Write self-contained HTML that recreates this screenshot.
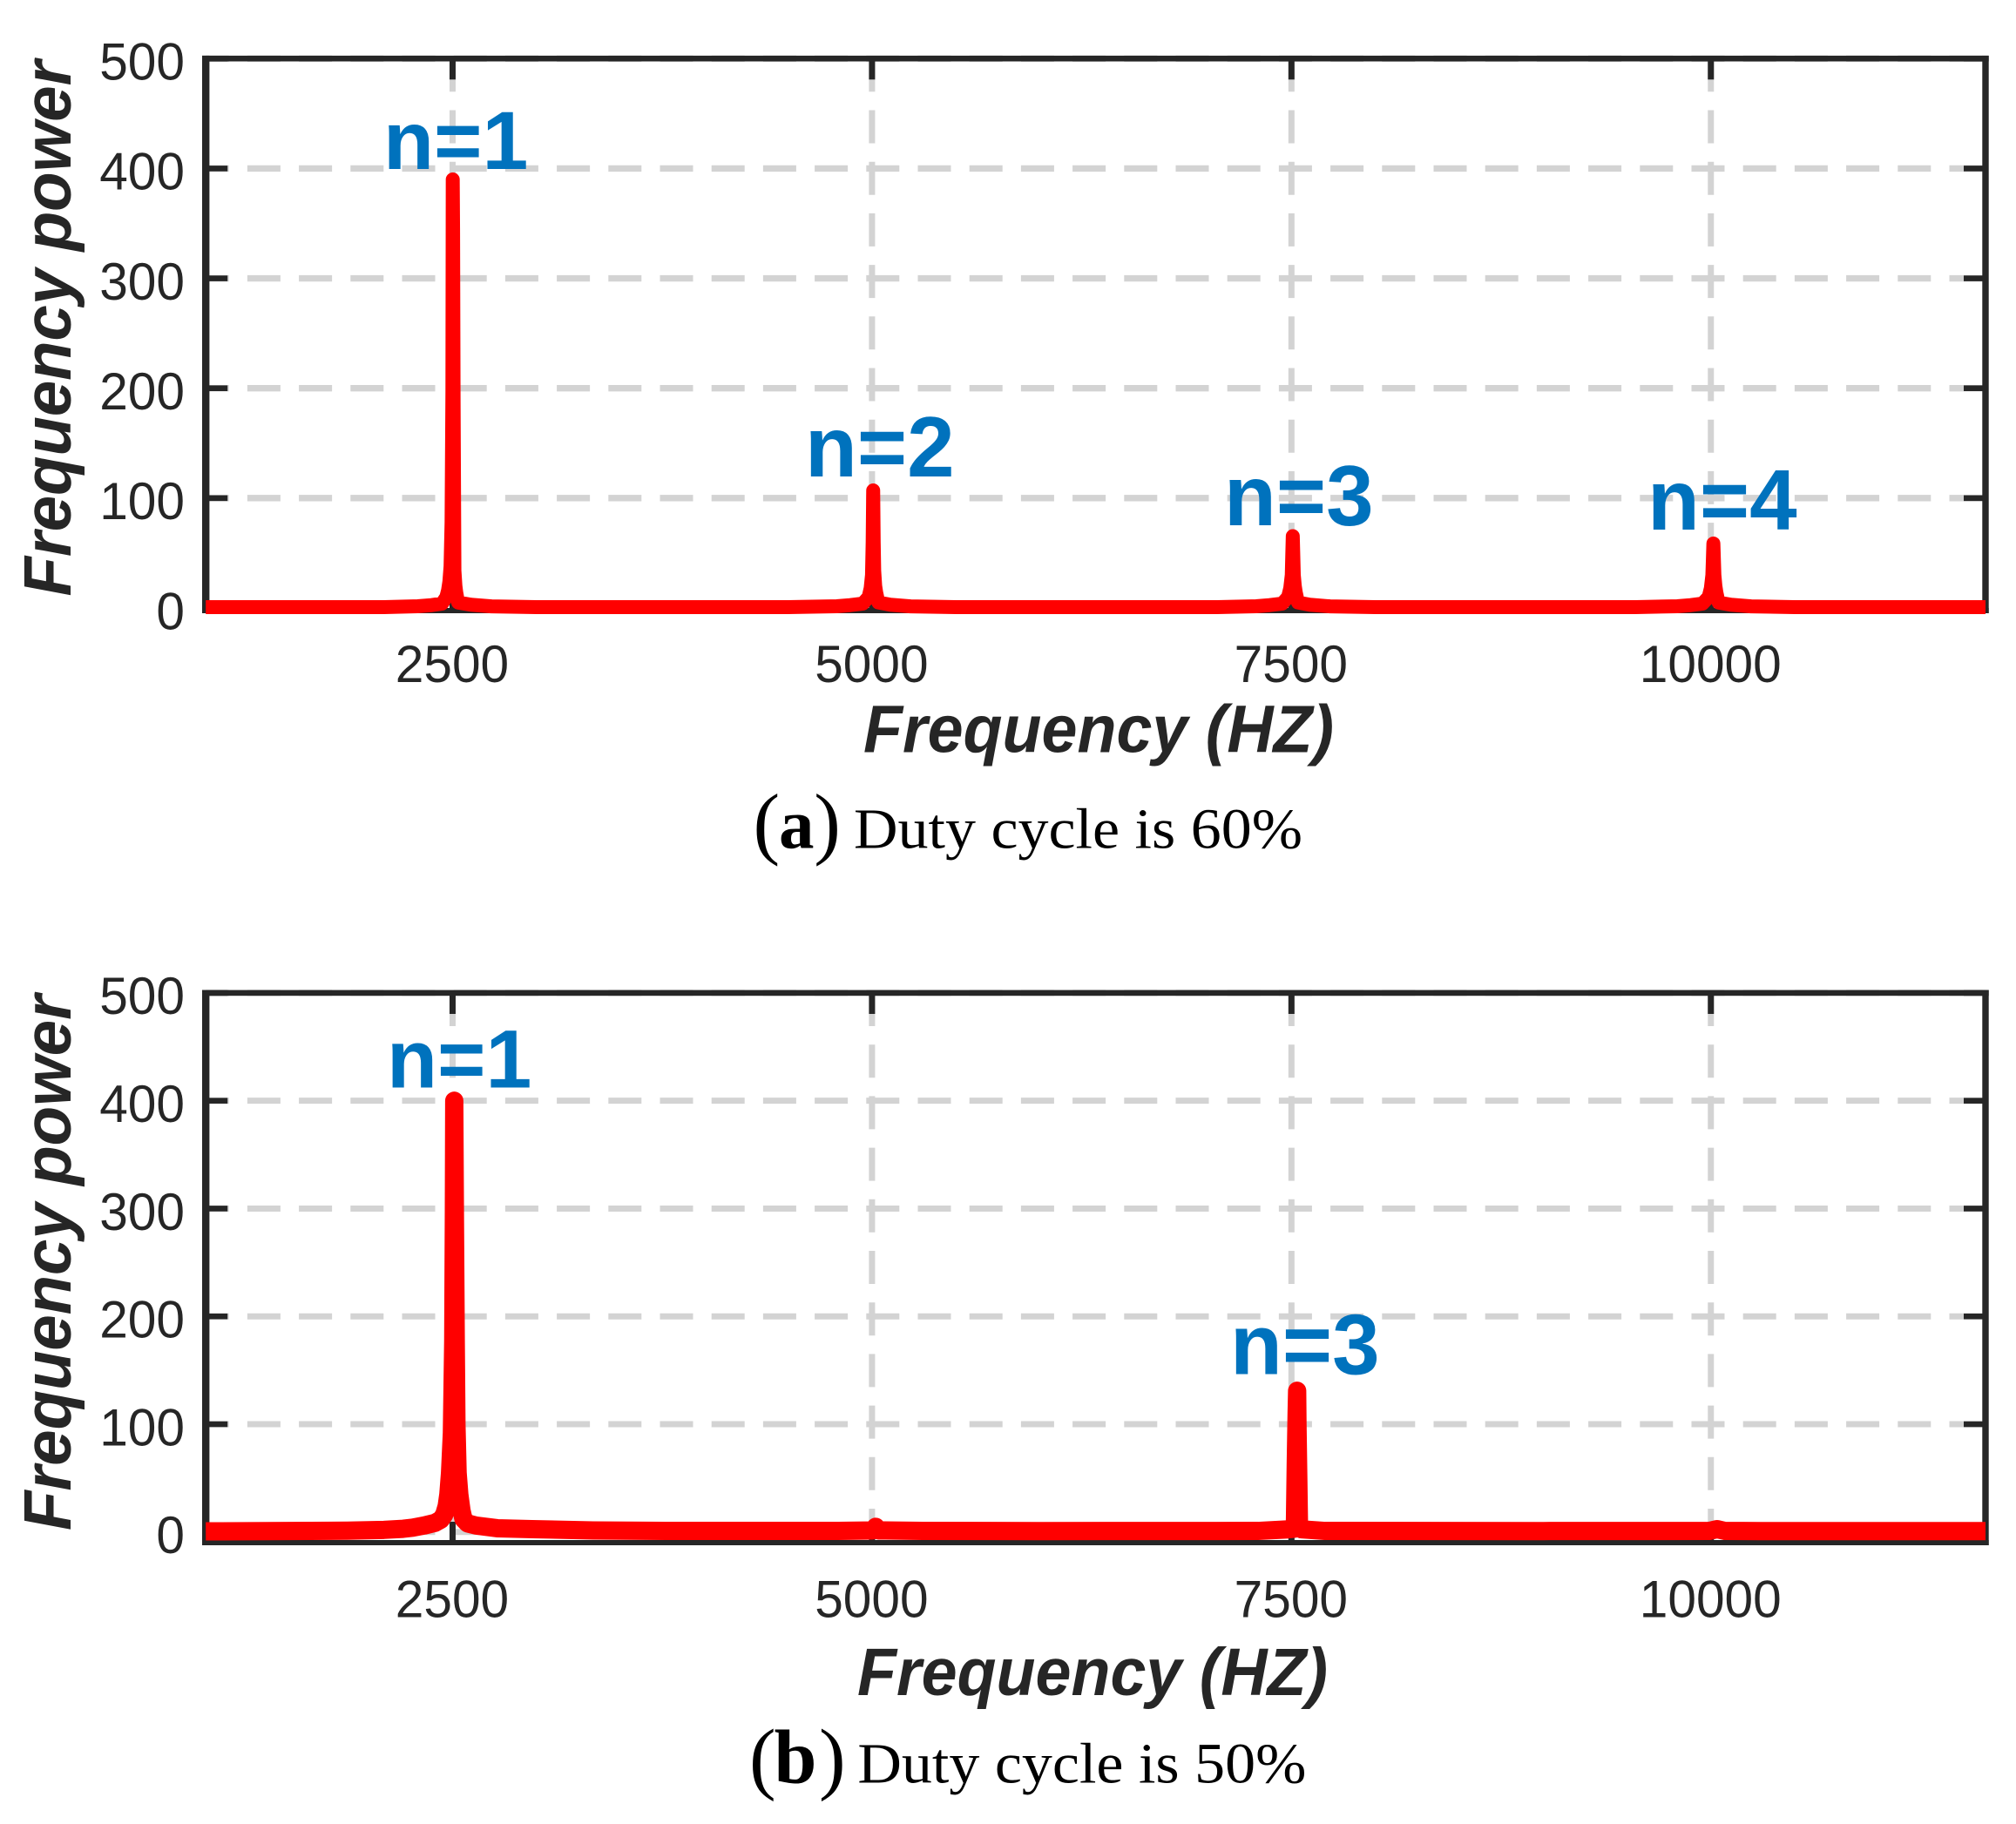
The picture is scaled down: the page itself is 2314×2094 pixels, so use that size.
<!DOCTYPE html>
<html lang="en">
<head>
<meta charset="utf-8">
<title>Frequency power spectra at 60% and 50% duty cycle</title>
<style>
  html, body { margin: 0; padding: 0; background: #fff; }
  svg { display: block; }
  text { font-family: "Liberation Sans", sans-serif; fill: #262626; }
  .serif { font-family: "Liberation Serif", serif; fill: #000; }
  .axis-title { font-weight: bold; font-style: italic; font-size: 77px; }
  .peak { font-weight: bold; fill: #0072BD; }
</style>
</head>
<body>
<svg id="figure" xmlns="http://www.w3.org/2000/svg" width="2314" height="2094" viewBox="0 0 2314 2094">
  <rect x="0" y="0" width="2314" height="2094" fill="#ffffff"/>
  <g id="panel-a"></g>
  <g id="panel-b"></g>
  <g>
    <text class="serif" x="864.5" y="975" font-size="92">(</text>
    <text class="serif" x="894" y="973.3" font-size="81" font-weight="bold">a</text>
    <text class="serif" x="934.3" y="975" font-size="92">)</text>
  </g>
  <text class="serif" x="980" y="973.3" font-size="66" textLength="515" lengthAdjust="spacingAndGlyphs">Duty cycle is 60%</text>
  <g>
    <text class="serif" x="860" y="2048.7" font-size="92">(</text>
    <text class="serif" x="888.5" y="2046.7" font-size="88" font-weight="bold">b</text>
    <text class="serif" x="940" y="2048.7" font-size="92">)</text>
  </g>
  <text class="serif" x="984.4" y="2046.7" font-size="66" textLength="515" lengthAdjust="spacingAndGlyphs">Duty cycle is 50%</text>
</svg>
<script>
const xTickValues = [2500, 5000, 7500, 10000];
const yTickValues = [0, 100, 200, 300, 400, 500];
const xLimits = [1029, 11637];

const freqA = [
  1029,2091,2292,2375,2437,2463,2473,2481,2488,2494,2499,2501,2503,2506,2511,2517,2522,2533,2610,2732,3000,
  4500,4790,4870,4945,4980,4992,5000,5004,5007,5010,5013,5019,5025,5038,5110,5230,5500,
  7050,7290,7370,7445,7480,7493,7502,7505,7508,7511,7514,7520,7526,7539,7610,7730,8000,
  9550,9800,9880,9950,9987,10000,10009,10012,10015,10018,10021,10027,10033,10046,10120,10240,10500,
  11637
];
const powerA = [
  0.8,0.8,1.6,2.6,4,10,16,24,38,78,197,390,345,191,34,20,14,5,3,1.5,0.8,
  0.8,1.6,2.6,4,10,18,30,60,107,60,34,20,14,5,3,1.5,0.8,
  0.8,1.6,2.6,4,10,18,30,48,65.4,48,30,20,14,5,3,1.5,0.8,
  0.8,1.6,2.6,4,10,18,30,44,58.7,44,30,20,14,5,3,1.5,0.8,
  0.8
];
const freqB = [
  1029,1873,2091,2205,2262,2330,2395,2430,2450,2465,2475,2485,2496,2504,2508,2510,2514,2519,2523,2530,2540,2553,2565,2590,2640,2766,2974,3337,3856,
  4800,5005,5022,5039,5300,6000,7300,7480,7516,7521,7526,7531,7534,7536,7541,7545,7560,7700,9000,9990,10037,10084,10300,11637
];
const powerB = [
  0.6,1.2,2,3,4,6,8.5,11.5,16,24,35,55,92,177,300,400,290,175,100,55,35,20,12,8,6,3.5,2.7,1.5,1,
  1,1.5,4.8,1.5,1,0.9,1,2.5,3,10,65,110,131,100,48,5,2.5,1,0.9,1,2.7,1,0.9,0.9
];
const peakLabelsA = ["n=1", "n=2", "n=3", "n=4"];
const peakLabelsB = ["n=1", "n=3"];

const SVG_NS = "http://www.w3.org/2000/svg";

function make(parent, tag, props, content) {
  const node = document.createElementNS(SVG_NS, tag);
  for (const key in props) node.setAttribute(key, props[key]);
  if (content !== undefined) node.textContent = content;
  parent.appendChild(node);
  return node;
}

function drawPanel(root, cfg) {
  const xScale = f => cfg.left + (f - xLimits[0]) / (xLimits[1] - xLimits[0]) * (cfg.right - cfg.left);
  const yScale = p => cfg.y0 - p * cfg.yUnit;

  yTickValues.forEach(v => {
    const line = make(root, "line", {
      x1: cfg.left, x2: cfg.right, y1: yScale(v), y2: yScale(v),
      stroke: "#d3d3d3", "stroke-width": cfg.gridH,
      "stroke-dasharray": "38 21.2", "stroke-dashoffset": 11.5
    });
    
    
  });
  xTickValues.forEach(v => {
    const line = make(root, "line", {
      x1: xScale(v), x2: xScale(v), y1: cfg.top, y2: cfg.bottom,
      stroke: "#d3d3d3", "stroke-width": 7,
      "stroke-dasharray": "38 21.2"
    });
    
    
  });

  const frameParts = [
    [cfg.left - 4.2, cfg.top - 3.4, 8.4, cfg.bottom - cfg.top + 6.4],
    [cfg.right - 3.7, cfg.top - 3.4, 7.4, cfg.bottom - cfg.top + 6.4],
    [cfg.left - 4.2, cfg.top - 3.4, cfg.right - cfg.left + 7.9, 6.6],
    [cfg.left - 4.2, cfg.bottom - 3, cfg.right - cfg.left + 7.9, 6]
  ];
  frameParts.forEach(p => {
    const part = make(root, "rect", { x: p[0], y: p[1], width: p[2], height: p[3], fill: "#262626" });
    
    
  });

  yTickValues.forEach(v => {
    [[cfg.left, 25], [cfg.right - 25, 25]].forEach(t => {
      const tick = make(root, "rect", { x: t[0], y: yScale(v) - 3.3, width: t[1], height: 6.6, fill: "#262626" });
      
      
    });
    const digits = String(v).length;
    const label = make(root, "text", {
      x: 212, y: yScale(v) + 24.3, "text-anchor": "end", "font-size": 60,
      textLength: digits * 32.6, lengthAdjust: "spacingAndGlyphs"
    }, String(v));
    
    
  });
  xTickValues.forEach(v => {
    [cfg.top, cfg.bottom - 24].forEach(y => {
      const tick = make(root, "rect", { x: xScale(v) - 3.5, y: y, width: 7, height: 24, fill: "#262626" });
      
      
    });
    const digits = String(v).length;
    const label = make(root, "text", {
      x: xScale(v) - 0.5, y: cfg.xTickY, "text-anchor": "middle", "font-size": 60,
      textLength: digits * 32.6, lengthAdjust: "spacingAndGlyphs"
    }, String(v));
    
    
  });

  const clip = make(root, "clipPath", { id: cfg.clipId });
  make(clip, "rect", { x: 235, y: cfg.top - 10, width: 2045, height: cfg.bottom - cfg.top + 30 });

  const points = cfg.freq.map((f, i) => xScale(f).toFixed(2) + "," + yScale(cfg.power[i]).toFixed(2)).join(" ");
  const series = make(root, "polyline", {
    points: points, fill: "none", stroke: "#ff0000", "stroke-width": cfg.lineWidth,
    "stroke-linejoin": "round", "stroke-linecap": "butt", "clip-path": "url(#" + cfg.clipId + ")"
  });
  
  

  cfg.peakLabels.forEach((text, i) => {
    const label = make(root, "text", { class: "peak", x: cfg.peakX[i], y: cfg.peakY[i], "font-size": cfg.peakSize[i] }, text);
    
    
  });

  const xTitle = make(root, "text", {
    class: "axis-title", x: cfg.xTitleX, y: cfg.xTitleY,
    textLength: 540, lengthAdjust: "spacingAndGlyphs"
  }, "Frequency (HZ)");
  
  

  const yTitle = make(root, "text", {
    class: "axis-title", transform: "translate(81 " + cfg.yTitleY + ") rotate(-90)",
    x: 0, y: 0, textLength: 615, lengthAdjust: "spacingAndGlyphs"
  }, "Frequency power");
  
  
}

drawPanel(document.getElementById("panel-a"), {
  clipId: "clip-a", left: 236.2, right: 2279, top: 67.3, bottom: 701,
  y0: 698, yUnit: 1.2614, gridH: 7.4, lineWidth: 16, xTickY: 783,
  freq: freqA, power: powerA, peakLabels: peakLabelsA,
  peakX: [440, 924, 1405, 1891], peakY: [194, 547, 602.8, 608], peakSize: [95, 98, 98, 98],
  xTitleX: 991, xTitleY: 863.3, yTitleY: 684.5
});
drawPanel(document.getElementById("panel-b"), {
  clipId: "clip-b", left: 236.2, right: 2279, top: 1140, bottom: 1771,
  y0: 1758.8, yUnit: 1.2378, gridH: 7, lineWidth: 21, xTickY: 1856.5,
  freq: freqB, power: powerB, peakLabels: peakLabelsB,
  peakX: [444, 1412], peakY: [1248.4, 1577.3], peakSize: [95, 98],
  xTitleX: 984, xTitleY: 1946, yTitleY: 1757
});
</script>
</body>
</html>
